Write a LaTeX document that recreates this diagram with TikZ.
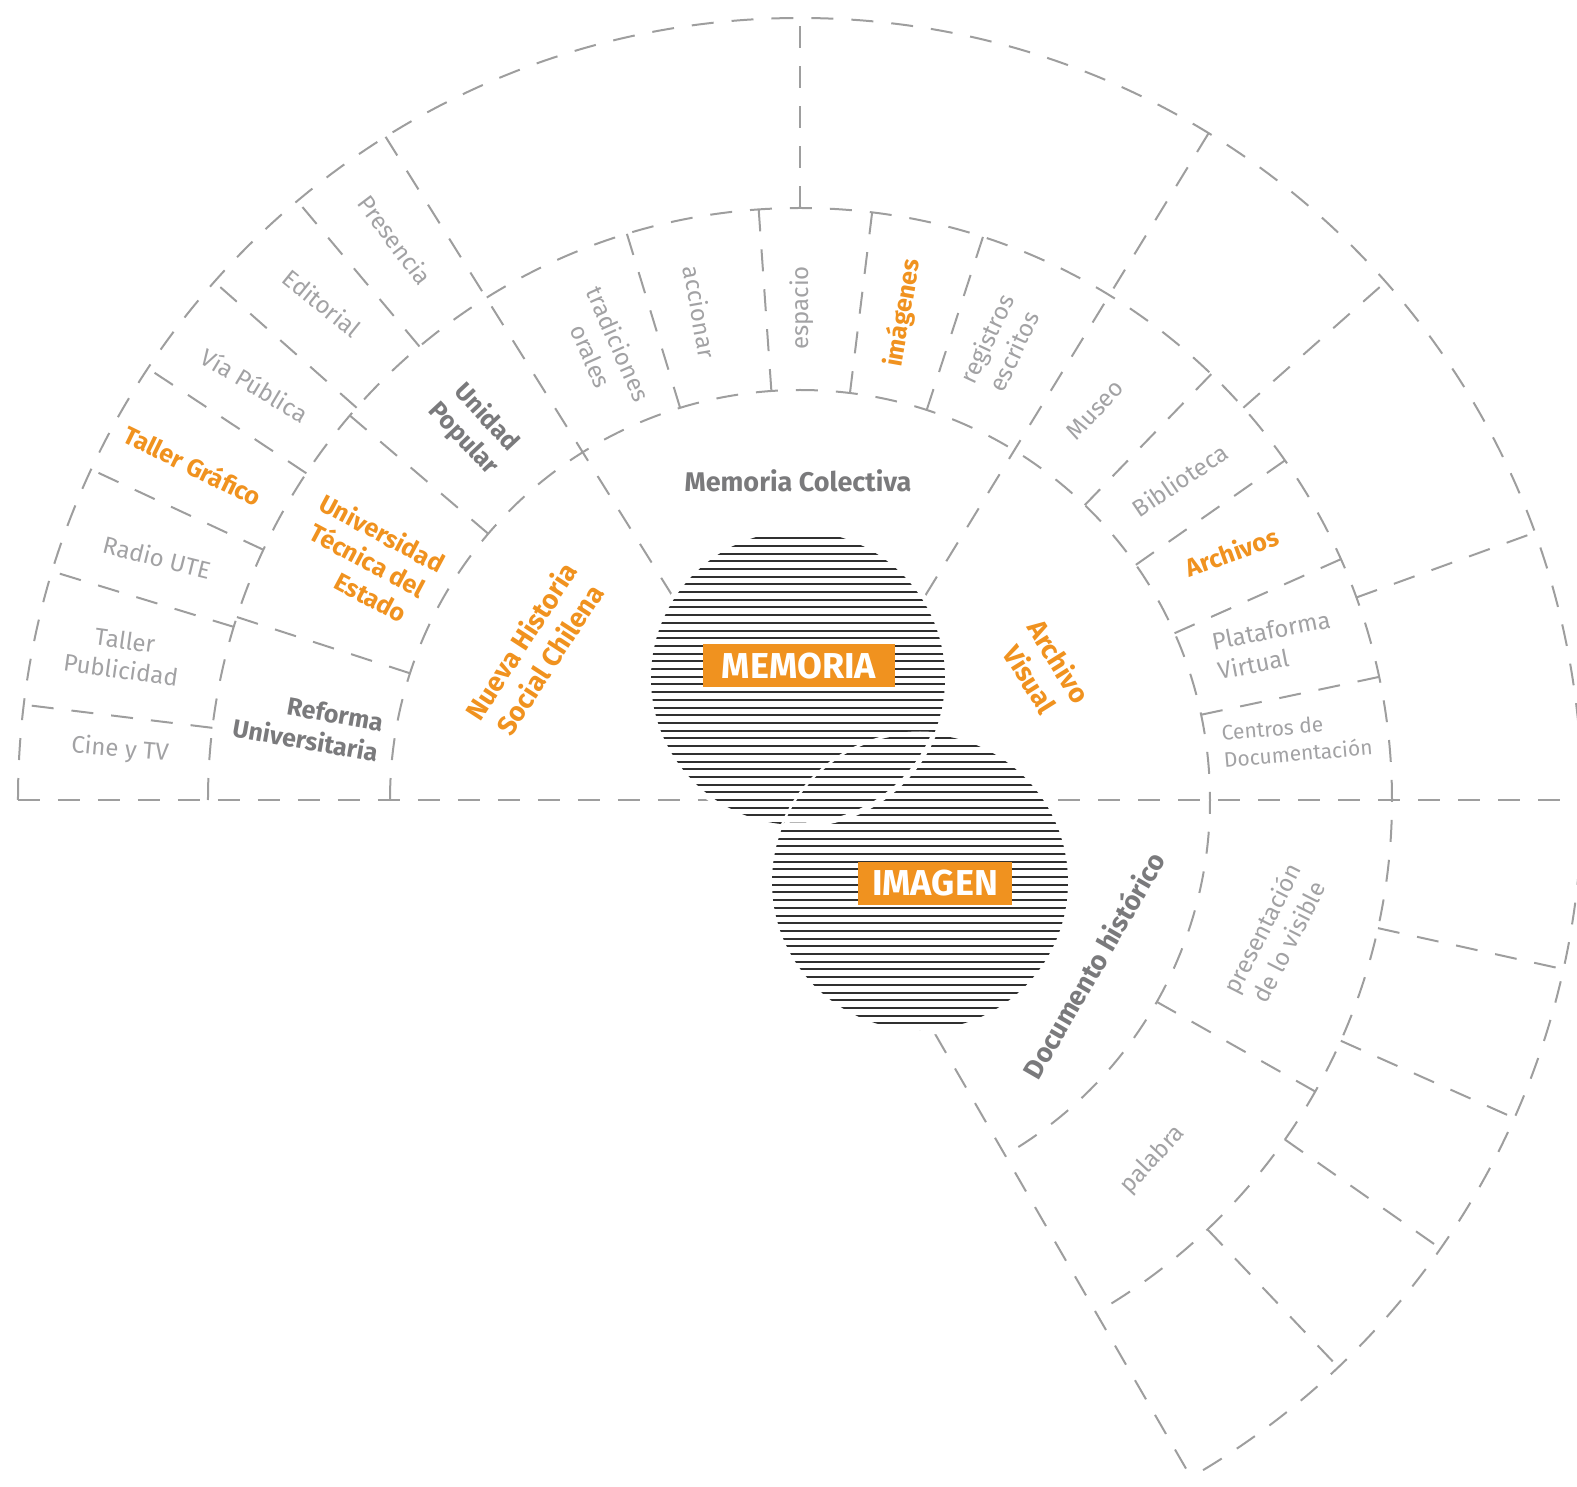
\documentclass[tikz,border=0pt]{standalone}
\usepackage{fontspec}
\setmainfont{Fira Sans}
\definecolor{naranja}{HTML}{F0921F}
\definecolor{grisosc}{HTML}{7A7A7C}
\definecolor{grisclaro}{HTML}{A2A2A4}
\definecolor{trazo}{HTML}{9E9E9E}
\definecolor{rayas}{HTML}{303030}
\tikzset{
  linea/.style={draw=trazo,line width=2pt,dash pattern=on 22pt off 18pt},
  raya/.style={draw=rayas,line width=2pt},
  etiq/.style={text=grisclaro,font=\fontsize{24}{30}\selectfont,align=center,inner sep=0pt},
  etiqb/.style={text=grisosc,font=\bfseries\fontsize{25}{31}\selectfont,align=center,inner sep=0pt},
  etiqn/.style={text=naranja,font=\bfseries\fontsize{25}{31}\selectfont,align=center,inner sep=0pt},
  caja/.style={fill=naranja,text=white,font=\bfseries\fontsize{36}{36}\selectfont,inner sep=0pt,minimum height=43pt}
}
\begin{document}
\begin{tikzpicture}[x=1pt,y=1pt]
\useasboundingbox (-800,-686) rectangle (777,800);
\def\ra{410} \def\rb{592} \def\rc{782}
% anillos
\draw[linea] (180:\ra) arc[start angle=180,end angle=-60,radius=\ra];
\draw[linea] (180:\rb) arc[start angle=180,end angle=-60,radius=\rb];
\draw[linea] (180:\rc) arc[start angle=180,end angle=-60,radius=\rc];
% divisiones
\draw[linea] (-\rc,0) -- (777,0);
\draw[linea] (122:240) -- (122:\rc);
\draw[linea] (58.5:240) -- (58.5:\rc);
\draw[linea] (-60:270) -- (-60:\rc);
\foreach \a in {162,139.5,107,94,83,72,46,35,24,12,-29.5}
  \draw[linea] (\a:\ra) -- (\a:\rb);
\foreach \a in {173,163,155,146.5,138.5,130,90,41.5,20,-12.5,-24,-35,-46.5}
  \draw[linea] (\a:\rb) -- (\a:\rc);
% circulos rayados
\coordinate (cm) at (-2,122);
\coordinate (ci) at (120,-82);
\fill[white] (cm) circle (152) (ci) circle (153);
\begin{scope}
  \clip (cm) circle (147);
  \foreach \k in {-4,...,36} \draw[raya] (-160,\k*7.7) -- (160,\k*7.7);
  \draw[white,line width=5pt] (ci) circle (148);
\end{scope}
\begin{scope}
  \clip (ci) circle (148);
  \foreach \k in {-31,...,10} \draw[raya] (-40,\k*7.7) -- (280,\k*7.7);
  \draw[white,line width=5pt] (cm) circle (147);
\end{scope}
\node[caja,minimum width=192pt] (memoria) at (-1,134) {MEMORIA};
\node[caja,minimum width=154pt] (imagen) at (135,-83) {IMAGEN};
% zona interior
\node[etiqn,rotate=57,font=\bfseries\fontsize{27}{34}\selectfont] (nueva) at (-265,150) {Nueva Historia\\Social Chilena};
\node[etiqb,font=\bfseries\fontsize{27}{31}\selectfont] (colectiva) at (-2,319) {Memoria Colectiva};
\node[etiqn,rotate=-58,font=\bfseries\fontsize{27}{34}\selectfont] (visual) at (245,130) {Archivo\\Visual};
\node[etiqb,rotate=60,font=\bfseries\fontsize{27}{31}\selectfont] (documento) at (293,-165) {Documento histórico};
% anillo medio
\node[etiqb,rotate=-10,align=right] (reforma) at (-492,75) {Reforma\\Universitaria};
\node[etiqn,rotate=-28] (ute) at (-432,240) {Universidad\\Técnica del\\\hspace*{40pt}Estado};
\node[etiqb,rotate=-47] (popular) at (-325,372) {Unidad\\Popular};
\node[etiq,rotate=-66] (tradiciones) at (-195,450) {tradiciones\\orales};
\node[etiq,rotate=-80] (accionar) at (-100,488) {accionar};
\node[etiq,rotate=90] (espacio) at (2,492) {espacio};
\node[etiqn,rotate=80] (imagenes) at (103,487) {imágenes};
\node[etiq,rotate=65] (registros) at (200,455) {registros\\escritos};
\node[etiq,rotate=47] (museo) at (295,390) {Museo};
\node[etiq,rotate=34] (biblioteca) at (380,320) {Biblioteca};
\node[etiqn,rotate=20] (archivos) at (432,248) {Archivos};
\node[etiq,rotate=11,align=left] (plataforma) at (474,155) {Plataforma\\Virtual};
\node[etiq,rotate=5,align=left,font=\fontsize{21}{27}\selectfont] (centros) at (497,60) {Centros de\\Documentación};
\node[etiq,rotate=63] (presentacion) at (475,-135) {presentación\\de lo visible};
\node[etiq,rotate=47] (palabra) at (353,-360) {palabra};
% anillo exterior
\node[etiq,rotate=-5] (cine) at (-680,50) {Cine y TV};
\node[etiq,rotate=-8] (publicidad) at (-677,145) {Taller\\Publicidad};
\node[etiq,rotate=-14] (radio) at (-643,243) {Radio UTE};
\node[etiqn,rotate=-26] (grafico) at (-607,335) {Taller Gráfico};
\node[etiq,rotate=-31] (via) at (-545,415) {Vía Pública};
\node[etiq,rotate=-39] (editorial) at (-478,497) {Editorial};
\node[etiq,rotate=-53] (presencia) at (-405,560) {Presencia};
\end{tikzpicture}
\end{document}
